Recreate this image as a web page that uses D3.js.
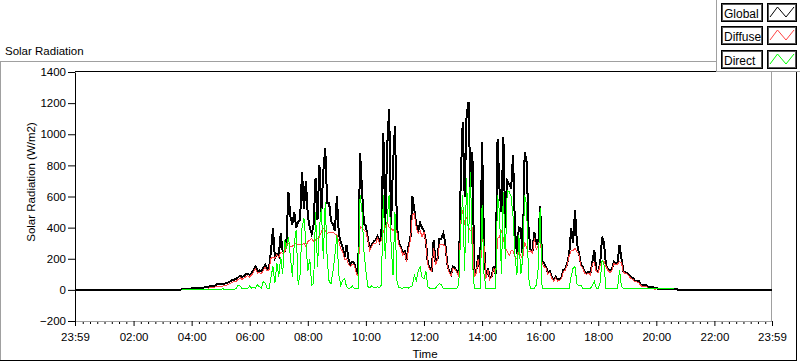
<!DOCTYPE html>
<html><head><meta charset="utf-8">
<script src="https://cdn.jsdelivr.net/npm/d3@7"></script>
<style>
html,body{margin:0;padding:0;background:#fff;}
svg{display:block;font-family:"Liberation Sans",Arial,sans-serif;}
</style></head><body>
<svg id="chart" width="800" height="361"></svg>
<script>
const chartTitle = "Solar Radiation";
const yAxisTitle = "Solar Radiation (W/m2)";
const xAxisTitle = "Time";
const seriesNames = ["Global", "Diffuse", "Direct"];
const seriesColors = ["#000000", "#ff4444", "#00ff00"];
const yTicks = [-200, 0, 200, 400, 600, 800, 1000, 1200, 1400];
const xTickMinutes = [-1, 120, 240, 360, 480, 600, 720, 840, 960, 1080, 1200, 1320, 1439];
const xTickLabels = ["23:59","02:00","04:00","06:00","08:00","10:00","12:00","14:00","16:00","18:00","20:00","22:00","23:59"];
const stepMinutes = 4;
const globalStart = "03:36";
const diffuseStart = "03:40";
const directStart = "03:40";

const globalValues = [0,
5,5,5,5,5,11,11,11,11,11,
11,14,17,17,22,26,26,28,36,36,
36,38,40,44,49,55,64,66,70,80,
92,82,88,100,105,96,110,130,150,122,
125,118,140,160,135,145,250,395,205,230,
215,363,250,250,330,630,470,420,502,400,
440,450,760,520,700,480,400,360,420,720,
450,800,500,760,910,560,560,440,420,380,
600,360,310,270,210,290,200,160,180,175,
120,95,880,640,420,410,330,265,290,310,
320,345,310,350,1010,420,920,1165,420,800,
1050,420,300,280,240,250,190,280,330,600,
520,420,380,430,400,380,310,170,140,130,
320,170,203,330,330,363,300,170,120,100,
150,140,120,96,716,1080,600,1120,1207,650,
887,90,120,224,110,951,300,80,139,75,
90,150,100,972,650,500,983,400,700,680,
650,866,395,230,400,395,220,887,822,395,
260,245,374,300,290,540,190,170,150,110,
120,85,64,85,64,70,80,128,135,171,
230,395,300,513,300,240,165,150,115,110,
115,105,182,256,125,120,170,342,299,160,
135,120,130,180,171,175,288,200,120,115,
107,95,80,75,60,60,55,35,32,30,
28,20,20,18,12,12,6,6,6,6,
6,6,6,6,6,6,2,0,0,0,0];

const diffuseValues = [
2,2,2,2,2,2,2,2,2,2,
2,2,2,2,12,16,16,18,22,22,
22,24,26,30,35,41,50,52,56,66,
78,68,74,86,91,82,96,116,136,108,
111,104,126,146,121,131,203,210,203,225,
210,240,235,240,300,300,280,280,290,300,
290,290,290,300,280,310,320,330,310,320,
330,340,374,395,380,360,370,365,372,360,
355,310,267,245,195,200,165,150,165,160,
108,86,406,400,385,374,320,255,280,300,
295,333,300,320,374,400,438,400,395,380,
400,370,290,270,224,240,180,260,320,480,
491,400,363,380,342,370,300,160,130,120,
267,160,193,290,290,290,280,160,111,91,
140,131,111,88,438,513,417,470,400,380,
395,82,108,200,101,331,280,72,130,67,
81,140,91,331,340,385,330,270,245,220,
250,250,210,200,240,220,200,310,270,245,
250,236,331,260,280,352,171,150,140,101,
111,76,56,76,55,61,71,120,126,162,
220,250,250,267,245,230,156,141,106,101,
106,96,171,175,116,111,161,180,185,150,
126,111,121,170,162,166,182,175,111,106,
100,86,71,66,51,51,46,26,23,21,
19,11,11,9,5,5];

const directValues = [
2,2,2,2,2,2,2,2,2,2,
2,2,2,2,2,2,2,2,2,2,
2,8,2,2,2,2,2,2,10,32,
25,10,8,10,10,25,12,18,12,32,
20,12,53,43,12,10,85,150,43,171,
85,214,100,320,260,342,214,85,299,385,
32,96,400,459,310,120,200,30,40,502,
150,400,523,200,566,200,53,40,120,224,
352,96,30,60,75,20,10,12,25,10,
10,8,609,500,245,120,20,15,25,15,
15,20,15,30,609,200,459,609,300,96,
502,60,15,12,12,15,15,12,20,25,
96,60,120,150,80,70,120,20,10,10,
12,12,30,40,35,10,8,8,8,8,
8,8,8,40,395,609,120,716,300,759,
182,12,10,10,10,545,100,12,12,12,
12,12,12,609,502,100,630,200,641,630,
600,470,220,96,352,100,200,609,545,80,
10,10,10,30,139,523,12,12,12,12,
12,12,12,12,12,12,10,10,10,10,
10,85,139,150,40,25,30,10,10,10,
10,10,30,53,10,10,50,192,160,10,
10,10,10,10,10,10,128,20,8,8,
8,8,8,8,8,8,8,8,8,8,
8,8,8,8,8,8,6,6,6,6,
6,6,6,6,6];

function toMin(s){ const [h,m] = s.split(":").map(Number); return h*60+m; }
function build(start, vals){ const s = toMin(start); return vals.map((v,i)=>({t: s + i*stepMinutes, v})); }

const svg = d3.select("#chart");
const L = 75, R = 772, T = 72, B = 321;
const x = d3.scaleLinear().domain([xTickMinutes[0], xTickMinutes[xTickMinutes.length-1]]).range([L, R]);
const y = d3.scaleLinear().domain([yTicks[0], yTicks[yTicks.length-1]]).range([B, T]);
const FONT = "Liberation Sans, Arial, sans-serif";

// outer frame
svg.append("rect").attr("x",0).attr("y",0).attr("width",800).attr("height",361).attr("fill","#fff");
svg.append("line").attr("x1",0).attr("x2",797).attr("y1",61.5).attr("y2",61.5).attr("stroke","#a0a0a0");
svg.append("line").attr("x1",0.5).attr("x2",0.5).attr("y1",61.5).attr("y2",360).attr("stroke","#a0a0a0");
svg.append("line").attr("x1",0).attr("x2",797).attr("y1",360.5).attr("y2",360.5).attr("stroke","#000");
svg.append("line").attr("x1",796.5).attr("x2",796.5).attr("y1",61.5).attr("y2",361).attr("stroke","#000");

svg.append("text").attr("x",5).attr("y",55).attr("font-size",11.5).attr("fill","#000").text(chartTitle);

// plot borders
svg.append("line").attr("x1",L).attr("x2",R).attr("y1",71.5).attr("y2",71.5).attr("stroke","#000");
svg.append("line").attr("x1",R-0.5).attr("x2",R-0.5).attr("y1",71.5).attr("y2",B).attr("stroke","#a0a0a0");

// axes
const yAxis = svg.append("g").attr("transform",`translate(${L},0)`)
  .call(d3.axisLeft(y).tickValues(yTicks).tickSize(7).tickSizeOuter(0).tickPadding(2).tickFormat(d3.format("d")));
yAxis.select(".domain").attr("stroke","#000");
yAxis.selectAll("text").attr("font-size",11.5).attr("font-family",FONT).attr("fill","#000");

const minorMinutes = d3.range(15, 1440, 15).filter(m => m % 120 !== 0);
const xMinor = svg.append("g").attr("transform",`translate(0,${B})`)
  .call(d3.axisBottom(x).tickValues(minorMinutes).tickSize(3).tickSizeOuter(0).tickFormat(""));
xMinor.select(".domain").attr("stroke","#a0a0a0");
const xAxis = svg.append("g").attr("transform",`translate(0,${B})`)
  .call(d3.axisBottom(x).tickValues(xTickMinutes).tickSize(5).tickSizeOuter(0).tickPadding(7)
    .tickFormat((d,i)=>xTickLabels[i]));
xAxis.select(".domain").attr("stroke","#a0a0a0");
xAxis.selectAll("text").attr("font-size",11.5).attr("font-family",FONT).attr("fill","#000");

svg.append("text").attr("transform","translate(35,182) rotate(-90)").attr("text-anchor","middle")
  .attr("font-size",11.5).attr("fill","#000").text(yAxisTitle);
svg.append("text").attr("x",425).attr("y",358).attr("text-anchor","middle")
  .attr("font-size",11.5).attr("fill","#000").text(xAxisTitle);

// data
const g = build(globalStart, globalValues);
const globalPts = [{t: x.domain()[0], v: globalValues[0]}, ...g, {t: x.domain()[1], v: globalValues[globalValues.length-1]}];
const series = [globalPts, build(diffuseStart, diffuseValues), build(directStart, directValues)];
const widths = [2, 1, 1];
const line = d3.line().x(d => x(d.t)).y(d => y(d.v));
series.forEach((pts, k) => {
  svg.append("path").datum(pts).attr("d", line).attr("fill","none")
    .attr("stroke", seriesColors[k]).attr("stroke-width",widths[k]).attr("shape-rendering","crispEdges");
});

// legend
const lg = svg.append("g");
lg.append("rect").attr("x",716.5).attr("y",-2).attr("width",90).attr("height",73.5).attr("fill","#fff").attr("stroke","#a0a0a0");
seriesNames.forEach((name, r) => {
  const y0 = Math.round(3 + r*23.3);
  lg.append("rect").attr("x",721.5).attr("y",y0+0.5).attr("width",41).attr("height",18).attr("fill","#fff").attr("stroke","#000");
  lg.append("rect").attr("x",722.5).attr("y",y0+1.5).attr("width",39).attr("height",16).attr("fill","none").attr("stroke","#555");
  lg.append("text").attr("x",724).attr("y",y0+14.5).attr("font-size",12).attr("fill","#000").text(name);
  lg.append("rect").attr("x",767.5).attr("y",y0+0.5).attr("width",29).attr("height",18).attr("fill","#fff").attr("stroke","#000");
  lg.append("rect").attr("x",768.5).attr("y",y0+1.5).attr("width",27).attr("height",16).attr("fill","none").attr("stroke","#555");
  lg.append("polyline").attr("points",`770,${y0+14} 777.5,${y0+4} 786,${y0+14} 794,${y0+4}`)
    .attr("fill","none").attr("stroke",seriesColors[r]).attr("stroke-width",1);
});
</script>
</body></html>
